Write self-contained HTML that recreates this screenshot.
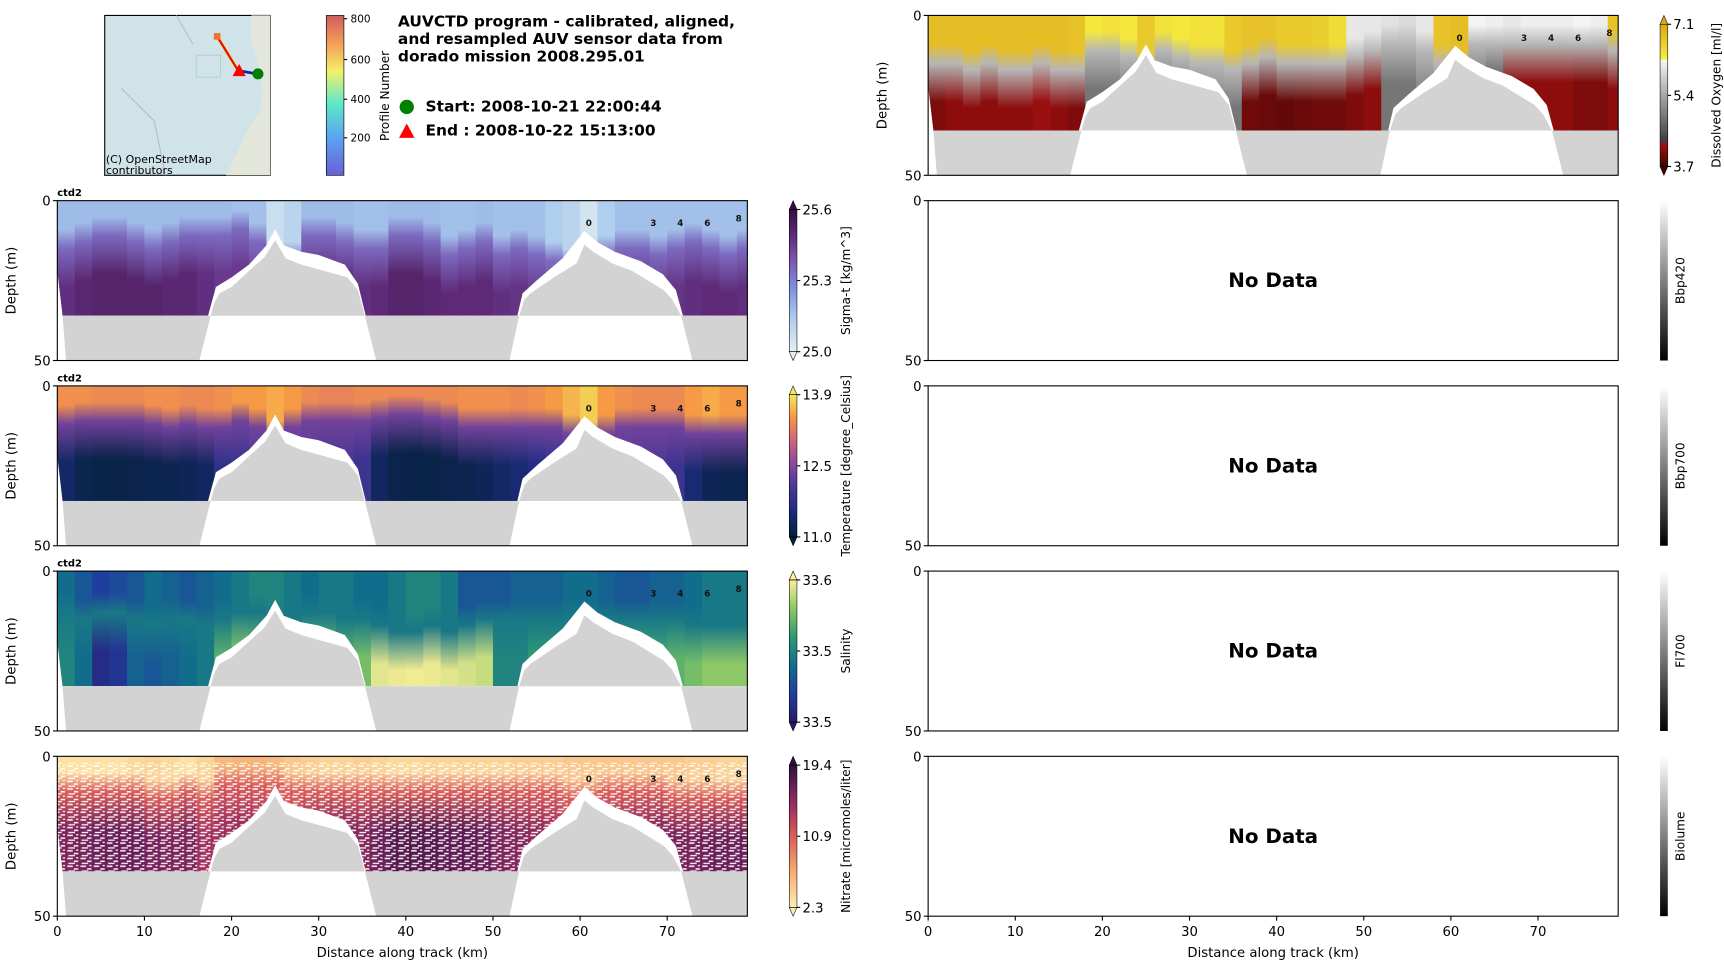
<!DOCTYPE html>
<html><head><meta charset="utf-8"><title>AUVCTD dorado 2008.295.01</title>
<style>
html,body{margin:0;padding:0;background:#fff;}
svg{display:block;font-family:"DejaVu Sans","Liberation Sans",sans-serif;}
</style></head>
<body>
<svg id="fig" xmlns="http://www.w3.org/2000/svg" width="1724" height="968" viewBox="0 0 1564 878" preserveAspectRatio="none">
<defs>
  <pattern id="speckle" width="12" height="7" patternUnits="userSpaceOnUse">
    <rect x="1" y="1" width="5" height="1.4" fill="#fff"/>
    <rect x="7" y="3.5" width="4" height="1.4" fill="#fff"/>
    <rect x="2" y="5.5" width="6" height="1.2" fill="#fff"/>
    <rect x="9" y="0.5" width="2" height="1.2" fill="#fff"/>
  </pattern>
  <linearGradient id="cb-profile" x1="0" y1="1" x2="0" y2="0">
    <stop offset="0" stop-color="#6a5fd8"/><stop offset="0.25" stop-color="#5aa8f0"/>
    <stop offset="0.45" stop-color="#5ee8c8"/><stop offset="0.65" stop-color="#f2f06a"/>
    <stop offset="0.82" stop-color="#f5a058"/><stop offset="1" stop-color="#cf5e5e"/>
  </linearGradient>
</defs>
</svg>
<script>
// ---------- data ----------
const kmCols = [0,2,4,6,8,10,12,14,16,18,20,22,24,26,28,30,32,34,36,38,40,42,44,46,48,50,52,54,56,58,60,62,64,66,68,70,72,74,76,78];
// sigma-t (normalised colour values) and transition depth (m)
const sigmaTop = [0.3,0.3,0.3,0.3,0.3,0.3,0.3,0.3,0.3,0.3,0.28,0.28,0.12,0.18,0.3,0.3,0.3,0.28,0.28,0.3,0.3,0.3,0.28,0.28,0.3,0.28,0.28,0.28,0.22,0.18,0.08,0.22,0.28,0.28,0.28,0.28,0.28,0.28,0.28,0.28];
const sigmaBot = [0.8,0.84,0.86,0.86,0.86,0.86,0.84,0.84,0.8,0.76,0.76,0.74,0.68,0.72,0.78,0.8,0.82,0.8,0.82,0.86,0.86,0.84,0.82,0.82,0.82,0.8,0.78,0.76,0.72,0.68,0.62,0.72,0.75,0.78,0.78,0.78,0.8,0.82,0.82,0.8];
const sigmaMld = [12,10,8,8,10,12,10,8,8,8,6,10,20,16,8,8,10,12,12,8,8,10,14,12,10,14,12,14,16,18,20,14,12,12,14,12,10,12,14,12];
// temperature
const tempTop = [0.82,0.82,0.8,0.8,0.8,0.82,0.82,0.8,0.8,0.82,0.85,0.85,0.88,0.85,0.8,0.78,0.78,0.8,0.8,0.8,0.8,0.8,0.8,0.82,0.82,0.82,0.8,0.82,0.85,0.9,0.95,0.85,0.82,0.8,0.8,0.8,0.85,0.88,0.85,0.85];
const tempBot = [0.12,0.06,0.04,0.04,0.05,0.06,0.06,0.08,0.1,0.25,0.3,0.35,0.4,0.4,0.38,0.35,0.35,0.3,0.1,0.05,0.04,0.04,0.05,0.06,0.08,0.12,0.15,0.2,0.25,0.3,0.35,0.38,0.38,0.36,0.35,0.3,0.15,0.08,0.06,0.06];
const tempMld = [9,8,8,8,8,9,10,9,10,10,8,10,14,10,8,8,8,8,7,6,6,7,8,10,10,10,10,10,10,12,14,12,10,10,10,10,12,12,12,12];
// salinity
const salTop = [0.4,0.3,0.2,0.25,0.3,0.4,0.35,0.3,0.35,0.4,0.45,0.5,0.5,0.45,0.4,0.45,0.45,0.4,0.4,0.45,0.5,0.5,0.45,0.3,0.3,0.3,0.35,0.35,0.35,0.4,0.4,0.35,0.3,0.3,0.35,0.35,0.4,0.45,0.45,0.45];
const salBot = [0.5,0.4,0.1,0.15,0.35,0.3,0.35,0.4,0.45,0.7,0.78,0.75,0.7,0.65,0.7,0.72,0.7,0.75,0.95,0.97,0.98,0.97,0.95,0.93,0.9,0.5,0.5,0.6,0.6,0.6,0.65,0.62,0.65,0.65,0.65,0.7,0.75,0.8,0.8,0.8];
const salMld = [10,12,10,10,12,14,12,12,14,12,10,10,12,12,10,10,12,12,14,16,16,14,16,14,12,12,12,12,12,12,12,12,12,12,12,12,14,14,14,14];
// nitrate
const nitTop = [0.05,0.05,0.05,0.05,0.08,0.1,0.08,0.05,0.1,0.2,0.22,0.22,0.2,0.15,0.12,0.1,0.1,0.12,0.1,0.08,0.08,0.1,0.1,0.1,0.1,0.1,0.12,0.12,0.12,0.15,0.15,0.15,0.15,0.15,0.15,0.15,0.12,0.12,0.1,0.1];
const nitBot = [0.8,0.82,0.85,0.85,0.85,0.82,0.8,0.8,0.7,0.7,0.72,0.7,0.6,0.6,0.75,0.8,0.8,0.78,0.85,0.9,0.9,0.9,0.88,0.88,0.85,0.8,0.78,0.75,0.7,0.62,0.55,0.7,0.75,0.78,0.8,0.82,0.82,0.85,0.85,0.85];
const nitMld = [8,8,8,8,8,10,10,8,10,6,6,6,6,8,8,8,8,8,8,8,8,8,8,8,8,8,8,8,8,10,10,8,8,8,8,10,10,10,10,10];
// dissolved oxygen
const oxyTop = [0.92,0.92,0.92,0.92,0.92,0.92,0.92,0.92,0.9,0.78,0.8,0.78,0.88,0.8,0.78,0.8,0.8,0.88,0.9,0.9,0.88,0.88,0.86,0.82,0.7,0.7,0.68,0.66,0.7,0.9,0.92,0.74,0.72,0.7,0.72,0.72,0.72,0.74,0.72,0.9];
const oxyBot = [0.1,0.12,0.12,0.12,0.12,0.12,0.14,0.12,0.1,0.35,0.35,0.35,0.4,0.35,0.35,0.35,0.4,0.35,0.08,0.07,0.06,0.07,0.08,0.08,0.1,0.12,0.35,0.35,0.4,0.35,0.4,0.35,0.25,0.12,0.12,0.12,0.12,0.1,0.1,0.12];
const oxyMld = [12,12,14,12,14,14,12,14,14,8,8,10,14,8,10,12,12,14,12,10,12,12,12,12,10,8,6,6,8,12,14,6,6,6,6,6,6,6,6,8];
// bathymetry-related outlines (km, depth m)
const dataEdgeKm = [0,0.6,17.3,17.6,18.2,20,22,24,25,26,28,30,33,34.5,35.4,52.8,53.4,55,58,60.5,62,64,67,69.5,71,71.8,79.2];
const dataEdgeD  = [22,36,36,33,27,24,20,14,9,14,16,17,20,26,36,36,29,25,18,9.5,13,16,19,23,28,36,36];
const hill1Km = [17.6,18.0,18.6,20,22,23.8,25,26.2,28,30,33.3,34.5,35.3];
const hill1D  = [36,32,29,27,22,17.6,12.4,18,20,21.5,24,28,36];
const hill2Km = [53,53.6,54.3,57,59.6,60.5,61.5,63.7,66,69.6,70.6,71.6];
const hill2D  = [36,31,29,24,19.6,13.8,16,19.6,22,28,31,36];
const gapKm = [[0,0.6,1.0,0],[17.6,35.3,36.6,16.3],[53,71.6,72.9,51.9]];
const xTicks = [0,10,20,30,40,50,60,70];
const profLabels = ["0","3","4","6","8"];
const profKm = [61,68.4,71.5,74.6,78.2];

// ---------- helpers ----------
const NS = "http://www.w3.org/2000/svg";
const svg = document.getElementById('fig');
const defs = svg.querySelector('defs');
function mk(tag, attrs, parent){
  const e = document.createElementNS(NS, tag);
  for (const k in attrs) e.setAttribute(k, attrs[k]);
  (parent||svg).appendChild(e); return e;
}
function hex(c){return [parseInt(c.slice(1,3),16),parseInt(c.slice(3,5),16),parseInt(c.slice(5,7),16)];}
function cmap(stops, v){
  v = Math.max(0, Math.min(1, v));
  for (let i=1;i<stops.length;i++){
    if (v <= stops[i][0]){
      const a = stops[i-1], b = stops[i]; const t = (v-a[0])/((b[0]-a[0])||1);
      const ca = hex(a[1]), cb = hex(b[1]);
      return 'rgb('+ca.map((x,j)=>Math.round(x+(cb[j]-x)*t)).join(',')+')';
    }
  }
  return stops[stops.length-1][1];
}
const CM = {
  dense: [[0,'#e6f1f1'],[0.25,'#a9c9ec'],[0.45,'#7f8fdc'],[0.65,'#7a55b0'],[0.82,'#5e2a78'],[1,'#36103e']],
  thermal: [[0,'#04203a'],[0.2,'#1f2d84'],[0.4,'#5b3b9c'],[0.55,'#9a4f98'],[0.7,'#d86a72'],[0.85,'#f79a45'],[1,'#f2e85c']],
  haline: [[0,'#2a186c'],[0.2,'#1f3f9e'],[0.4,'#126d8c'],[0.6,'#2f9a72'],[0.8,'#8cc866'],[1,'#fdef9a']],
  matter: [[0,'#fdedb0'],[0.25,'#f6ac72'],[0.5,'#dc5d5a'],[0.7,'#a1305f'],[0.85,'#6b1f5a'],[1,'#2f0f3d']],
  oxy: [[0,'#3a0505'],[0.16,'#a81010'],[0.17,'#3c3c3c'],[0.74,'#f4f4f4'],[0.76,'#f6ee40'],[1,'#dca418']]
};

const L = {x0:52, w:626}, R = {x0:842, w:626};
const rowsY = [182,350,518,686];
const H = 145, KMAX = 79.2, DMAX = 50;

function axisFns(x0,y0){
  return { x: km => x0 + km/KMAX*626, y: d => y0 + d/DMAX*H };
}

let gid = 0;
function drawSection(x0,y0,name,cmStops,top,bot,mld,midVal,speckle){
  const ax = axisFns(x0,y0);
  const g = mk('g',{});
  
  
  const cid = 'clip'+(gid++);
  const cp = mk('clipPath',{id:cid},defs);
  let pts = ax.x(0)+','+ax.y(0)+' '+ax.x(KMAX)+','+ax.y(0);
  for (let i=dataEdgeKm.length-1;i>=0;i--) pts += ' '+ax.x(dataEdgeKm[i])+','+ax.y(dataEdgeD[i]);
  mk('polygon',{points:pts},cp);
  const dg = mk('g',{'clip-path':'url(#'+cid+')'},g);
  kmCols.forEach((k,i)=>{
    const id = 'grad'+(gid++);
    const lg = mk('linearGradient',{id:id,gradientUnits:'userSpaceOnUse',x1:0,x2:0,y1:ax.y(0),y2:ax.y(36)},defs);
    const m = mld[i];
    const st = [[0,top[i]],[Math.max(0,m-3),top[i]],[m+3,midVal],[Math.min(36,m+15),bot[i]],[36,bot[i]]];
    st.forEach(s=>mk('stop',{offset:(s[0]/36).toFixed(3),'stop-color':cmap(cmStops,s[1])},lg));
    const k2 = i<kmCols.length-1 ? kmCols[i+1] : KMAX;
    const r = mk('rect',{x:ax.x(k),y:ax.y(0),width:ax.x(k2)-ax.x(k)+0.6,height:ax.y(36)-ax.y(0),fill:'url(#'+id+')'},dg);
    
    
  });
  if (speckle) mk('rect',{x:ax.x(0),y:ax.y(2),width:626,height:ax.y(36)-ax.y(2),fill:'url(#speckle)',opacity:0.95},dg);
  drawFloor(g, ax);
  drawProfileLabels(g, ax);
  return g;
}
function drawFloor(g, ax){
  mk('rect',{x:ax.x(0),y:ax.y(36),width:626,height:ax.y(50)-ax.y(36),fill:'#d3d3d3'},g);
  gapKm.forEach(q=>{
    mk('polygon',{points:[ax.x(q[0])+','+ax.y(36),ax.x(q[1])+','+ax.y(36),ax.x(q[2])+','+ax.y(50),ax.x(q[3])+','+ax.y(50)].join(' '),fill:'#fff'},g);
  });
  [[hill1Km,hill1D],[hill2Km,hill2D]].forEach(h=>{
    const p = h[0].map((k,i)=>ax.x(k)+','+ax.y(h[1][i])).join(' ');
    const poly = mk('polygon',{points:p,fill:'#d3d3d3'},g);
    
    
  });
}
function drawProfileLabels(g, ax){
  profLabels.forEach((t,i)=>{
    const tx = mk('text',{x:ax.x(profKm[i]),y:ax.y(i===4?6.5:8),'font-size':8,'font-weight':'bold','text-anchor':'middle',fill:'#111'},g);
    tx.textContent = t;
  });
}
function frame(x0,y0,name,showXTicks,depthLabel,tickX){
  const ax = axisFns(x0,y0);
  const f = mk('rect',{x:x0,y:y0,width:626,height:H,fill:'none',stroke:'#000','stroke-width':1});
  
  
  [[0,'0'],[50,'50']].forEach(t=>{
    mk('line',{x1:x0-4,x2:x0,y1:ax.y(t[0]),y2:ax.y(t[0]),stroke:'#000'});
    const tx = mk('text',{x:x0-6,y:ax.y(t[0])+4.5,'font-size':12,'text-anchor':'end'});
    tx.textContent = t[1];
  });
  if (depthLabel){
    const lb = mk('text',{x:0,y:0,'font-size':12,'text-anchor':'middle',transform:'translate('+tickX+','+(y0+H/2)+') rotate(-90)'});
    
    
    lb.textContent = 'Depth (m)';
  }
  if (showXTicks){
    xTicks.forEach(k=>{
      mk('line',{x1:ax.x(k),x2:ax.x(k),y1:y0+H,y2:y0+H+4,stroke:'#000'});
      const tx = mk('text',{x:ax.x(k),y:y0+H+18,'font-size':12,'text-anchor':'middle'});
      tx.textContent = k;
    });
    const xl = mk('text',{x:x0+313,y:y0+H+37,'font-size':12,'text-anchor':'middle'});
    
    
    xl.textContent = 'Distance along track (km)';
  }
}
function colorbar(x,y0,name,stops,ticks,label,extend){
  const g = mk('g',{});
  
  
  const id = 'cbg'+(gid++);
  const lg = mk('linearGradient',{id:id,x1:0,y1:1,x2:0,y2:0},defs);
  stops.forEach(s=>mk('stop',{offset:s[0],'stop-color':s[1]},lg));
  const w=7, a=extend?8:0;
  mk('rect',{x:x,y:y0+a,width:w,height:H-2*a,fill:'url(#'+id+')'},g);
  if (extend){
    mk('polygon',{points:x+','+(y0+a)+' '+(x+w/2)+','+y0+' '+(x+w)+','+(y0+a),fill:stops[stops.length-1][1],stroke:'#000','stroke-width':0.5},g);
    mk('polygon',{points:x+','+(y0+H-a)+' '+(x+w/2)+','+(y0+H)+' '+(x+w)+','+(y0+H-a),fill:stops[0][1],stroke:'#000','stroke-width':0.5},g);
    mk('rect',{x:x,y:y0+a,width:w,height:H-2*a,fill:'none',stroke:'#000','stroke-width':0.5},g);
  }
  ticks.forEach((t,i)=>{
    const ty = y0+a+(H-2*a)*(1-i/(ticks.length-1));
    mk('line',{x1:x+w,x2:x+w+3,y1:ty,y2:ty,stroke:'#000'},g);
    const tx = mk('text',{x:x+w+5,y:ty+4.5,'font-size':12},g);
    tx.textContent = t;
  });
  const lx = ticks.length ? x+55 : x+22;
  const lb = mk('text',{x:0,y:0,'font-size':11,'text-anchor':'middle',transform:'translate('+lx+','+(y0+H/2)+') rotate(-90)'},g);
  lb.textContent = label;
}

// ---------- left column ----------
drawSection(L.x0,rowsY[0],'sigma-t',CM.dense,sigmaTop,sigmaBot,sigmaMld,0.58,false);
drawSection(L.x0,rowsY[1],'temperature',CM.thermal,tempTop,tempBot,tempMld,0.45,false);
drawSection(L.x0,rowsY[2],'salinity',CM.haline,salTop,salBot,salMld,0.45,false);
drawSection(L.x0,rowsY[3],'nitrate',CM.matter,nitTop,nitBot,nitMld,0.5,true);
rowsY.forEach((y,i)=>frame(L.x0,y,['sigma-t','temperature','salinity','nitrate'][i],i===3,true,14));
[0,1,2].forEach(i=>{
  const t = mk('text',{x:52,y:rowsY[i]-4,'font-size':9,'font-weight':'bold'});
  
  
  t.textContent='ctd2';
});
colorbar(716,rowsY[0],'sigma-colorbar',CM.dense,['25.0','25.3','25.6'],'Sigma-t [kg/m^3]',true);
colorbar(716,rowsY[1],'temperature-colorbar',CM.thermal,['11.0','12.5','13.9'],'Temperature [degree_Celsius]',true);
colorbar(716,rowsY[2],'salinity-colorbar',CM.haline,['33.5','33.5','33.6'],'Salinity',true);
colorbar(716,rowsY[3],'nitrate-colorbar',CM.matter,['2.3','10.9','19.4'],'Nitrate [micromoles/liter]',true);

// ---------- right column ----------
drawSection(R.x0,14,'oxygen',CM.oxy,oxyTop,oxyBot,oxyMld,0.55,false);
frame(R.x0,14,'oxygen',false,true,804);
colorbar(1506,14,'oxygen-colorbar',CM.oxy,['3.7','5.4','7.1'],'Dissolved Oxygen [ml/l]',true);
['Bbp420','Bbp700','Fl700','Biolume'].forEach((n,i)=>{
  frame(R.x0,rowsY[i],n.toLowerCase(),i===3,false,0);
  const t = mk('text',{x:R.x0+313,y:rowsY[i]+H/2+6,'font-size':18,'font-weight':'bold','text-anchor':'middle'});
  
  
  t.textContent='No Data';
  colorbar(1506,rowsY[i],n.toLowerCase()+'-colorbar',[[0,'#000'],[1,'#fff']],[],n,false);
});

// ---------- header: map, profile colorbar, title ----------
const map = mk('g',{});


mk('rect',{x:95,y:14,width:150,height:145,fill:'#cfe3e9',stroke:'#000','stroke-width':1},map);
mk('path',{d:'M228,14 L245,14 L245,159 L205,159 C215,140 222,120 236,100 C241,80 236,60 228,40 Z',fill:'#e3e6da'},map);
mk('path',{d:'M110,80 L140,110 L150,159 M160,14 L175,40',stroke:'#b9b0c8','stroke-width':0.8,fill:'none'},map);
mk('rect',{x:178,y:50,width:22,height:20,fill:'none',stroke:'#aac8b8','stroke-width':0.6},map);
mk('line',{x1:197,y1:33,x2:216,y2:64,stroke:'#ffe030','stroke-width':3},map);
mk('line',{x1:197,y1:33,x2:216,y2:64,stroke:'#e01010','stroke-width':2},map);
mk('line',{x1:216,y1:64,x2:233,y2:67,stroke:'#1020b0','stroke-width':2.5},map);
mk('rect',{x:194,y:30,width:6,height:6,fill:'#f07030'},map);
mk('circle',{cx:234,cy:67,r:5,fill:'#008000'},map);
mk('polygon',{points:'217,58 211,69 223,69',fill:'#ff0000'},map);
const osm = mk('text',{x:96,y:148,'font-size':10},map); osm.textContent='(C) OpenStreetMap';
const osm2 = mk('text',{x:96,y:158,'font-size':10},map); osm2.textContent='contributors';

const pcb = mk('g',{});


mk('rect',{x:296,y:14,width:16,height:145,fill:'url(#cb-profile)',stroke:'#000','stroke-width':0.6},pcb);
[['800',17],['600',54],['400',90],['200',125]].forEach(t=>{
  mk('line',{x1:312,x2:315,y1:t[1],y2:t[1],stroke:'#000'},pcb);
  const tx = mk('text',{x:318,y:t[1]+3.5,'font-size':9.5},pcb); tx.textContent=t[0];
});
const pl = mk('text',{x:0,y:0,'font-size':11,'text-anchor':'middle',transform:'translate(353,87) rotate(-90)'},pcb);
pl.textContent='Profile Number';

const title = mk('g',{'font-size':14,'font-weight':'bold'});


['AUVCTD program - calibrated, aligned,','and resampled AUV sensor data from','dorado mission 2008.295.01'].forEach((s,i)=>{
  const t = mk('text',{x:361,y:24+i*16},title); t.textContent=s;
});
const leg = mk('g',{});


mk('circle',{cx:369,cy:97,r:6.5,fill:'#008000'},leg);
mk('polygon',{points:'369,112 362,125 376,125',fill:'#ff0000'},leg);
const s1 = mk('text',{x:386,y:101,'font-size':14,'font-weight':'bold'},leg); s1.textContent='Start: 2008-10-21 22:00:44';
const s2 = mk('text',{x:386,y:123,'font-size':14,'font-weight':'bold'},leg); s2.setAttribute('xml:space','preserve'); s2.textContent='End  : 2008-10-22 15:13:00';
</script>
</body></html>
